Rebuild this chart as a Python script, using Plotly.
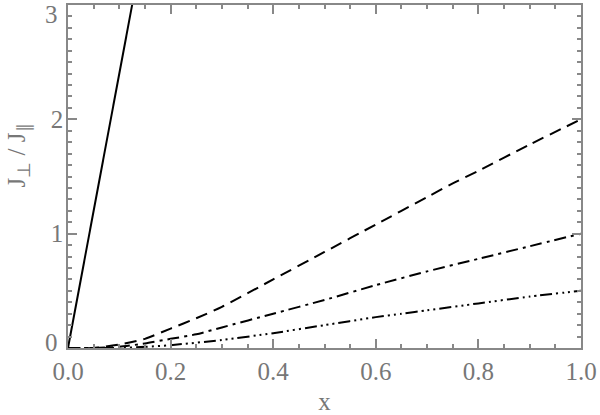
import plotly.graph_objects as go

# Data
x_solid = [0.0, 0.01, 0.05, 0.1, 0.125, 0.13]
y_solid = [0.0, 0.24, 1.2, 2.4, 3.0, 3.12]

x_dash = [0.0, 0.05, 0.1, 0.15, 0.2, 0.25, 0.3, 0.4, 0.5, 0.6, 0.7, 0.75, 0.8, 0.9, 1.0]
y_dash = [0.0, 0.0, 0.03, 0.08, 0.17, 0.26, 0.36, 0.6, 0.84, 1.08, 1.32, 1.44, 1.55, 1.78, 2.0]

x_dashdot = [0.0, 0.05, 0.1, 0.15, 0.2, 0.25, 0.3, 0.4, 0.5, 0.6, 0.7, 0.8, 0.9, 1.0]
y_dashdot = [0.0, 0.0, 0.01, 0.04, 0.08, 0.12, 0.18, 0.3, 0.42, 0.55, 0.67, 0.78, 0.89, 1.0]

x_dd3 = [0.0, 0.05, 0.1, 0.15, 0.2, 0.3, 0.4, 0.5, 0.6, 0.65, 0.7, 0.8, 0.9, 1.0]
y_dd3 = [0.0, 0.0, 0.0, 0.01, 0.025, 0.07, 0.13, 0.2, 0.27, 0.3, 0.33, 0.39, 0.45, 0.5]

x_tick_step = 0.2
y_tick_step = 1
y_edge_labels = {0: 6, 3: -9}  # label value -> vertical nudge (px), as in the reference

fig = go.Figure()
lw = 2
fig.add_trace(go.Scatter(x=x_solid, y=y_solid, mode="lines",
                         line=dict(color="black", width=lw, dash="solid")))
fig.add_trace(go.Scatter(x=x_dash, y=y_dash, mode="lines",
                         line=dict(color="black", width=lw, dash="12px,7px",
                                   shape="spline", smoothing=0.6)))
fig.add_trace(go.Scatter(x=x_dashdot, y=y_dashdot, mode="lines",
                         line=dict(color="black", width=lw, dash="12px,5px,3px,5px",
                                   shape="spline", smoothing=0.6)))
fig.add_trace(go.Scatter(x=x_dd3, y=y_dd3, mode="lines",
                         line=dict(color="black", width=lw,
                                   dash="12px,4px,2px,4px,2px,4px,2px,4px",
                                   shape="spline", smoothing=0.6)))

axcol = "#888888"
labcol = "#777777"
font_family = "Liberation Serif"
fs = 25

fig.update_layout(
    width=600, height=415,
    margin=dict(l=68, r=19, t=5, b=67, autoexpand=False),
    paper_bgcolor="white", plot_bgcolor="white",
    showlegend=False,
    font=dict(family=font_family, size=fs, color=labcol),
)
fig.update_xaxes(
    range=[0, 1], tickmode="linear", tick0=0, dtick=x_tick_step, tickformat=".1f",
    showgrid=False, zeroline=False, automargin=False,
    showline=True, linecolor=axcol, linewidth=1.5, mirror="allticks",
    ticks="inside", ticklen=9, tickwidth=1.5, tickcolor=axcol,
    ticklabelstandoff=0, ticklabeloverflow="allow",
    minor=dict(dtick=0.05, ticks="inside", ticklen=4, tickcolor=axcol, tickwidth=1.5, showgrid=False),
    title=dict(text="x", standoff=16, font=dict(size=fs, color=labcol)),
    tickfont=dict(size=fs, color=labcol),
)
fig.update_yaxes(
    range=[0, 3], tickmode="linear", tick0=0, dtick=y_tick_step,
    showgrid=False, zeroline=False, automargin=False,
    showline=True, linecolor=axcol, linewidth=1.5, mirror="allticks",
    ticks="inside", ticklen=9, tickwidth=1.5, tickcolor=axcol,
    ticklabelstandoff=-2, ticklabeloverflow="allow",
    labelalias={str(k): " " for k in y_edge_labels},
    minor=dict(dtick=0.1, ticks="inside", ticklen=4, tickcolor=axcol, tickwidth=1.5, showgrid=False),
    tickfont=dict(size=fs, color=labcol),
)

# edge tick labels nudged inward, as the reference draws them
for val, shift in y_edge_labels.items():
    fig.add_annotation(x=0, xref="paper", y=val, yref="y", text=str(val),
                       showarrow=False, xanchor="right", yanchor="middle",
                       xshift=-8, yshift=shift,
                       font=dict(size=fs, color=labcol, family=font_family))

# y-axis title
fig.add_annotation(x=0, xref="paper", y=0.56, yref="paper",
                   text="J<sub>⊥</sub> / J<sub>∥</sub>", textangle=-90,
                   showarrow=False, xanchor="right", yanchor="middle", xshift=-32,
                   font=dict(size=fs, color=labcol, family=font_family))

fig.write_html(
    "out.html",
    config={"displayModeBar": False},
    post_script="document.body.style.margin='0';document.body.style.overflow='hidden';",
)
